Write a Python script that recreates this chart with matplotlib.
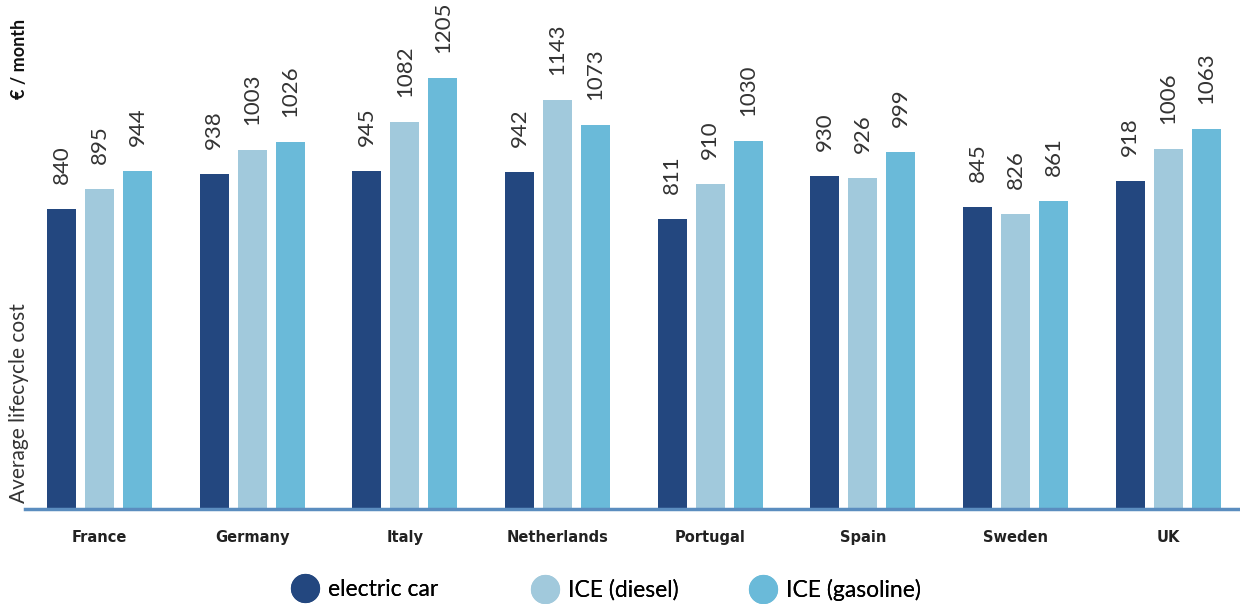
import matplotlib
matplotlib.use("Agg")
import matplotlib.pyplot as plt
from matplotlib.lines import Line2D
import numpy as np

countries = ["France", "Germany", "Italy", "Netherlands", "Portugal", "Spain", "Sweden", "UK"]
electric = [840, 938, 945, 942, 811, 930, 845, 918]
diesel = [895, 1003, 1082, 1143, 910, 926, 826, 1006]
gasoline = [944, 1026, 1205, 1073, 1030, 999, 861, 1063]
series_names = ["electric car", "ICE (diesel)", "ICE (gasoline)"]
colors = ["#23477f", "#a1c9dc", "#6abad9"]

plt.rcParams["font.family"] = ["Lato", "DejaVu Sans"]

fig = plt.figure(figsize=(12.4, 6.04), dpi=100)
ax = fig.add_axes([0.02, 0.157, 0.98, 0.843])

x = np.arange(len(countries))
width = 0.19
step = 0.249
for i, (vals, col) in enumerate(zip([electric, diesel, gasoline], colors)):
    pos = x + (i - 1) * step
    ax.bar(pos, vals, width=width, color=col, zorder=2)
    for p, v in zip(pos, vals):
        ax.annotate(str(v), (p, v), xytext=(0, 18), textcoords="offset points",
                    rotation=90, ha="center", va="bottom", fontsize=16,
                    fontweight="normal", color="#333333")

ax.set_xlim(-0.49, 7.47)
ax.set_ylim(0, 1423)
for s in ["top", "right", "left"]:
    ax.spines[s].set_visible(False)
ax.spines["bottom"].set_color("#5b8dbf")
ax.spines["bottom"].set_linewidth(2.5)
ax.set_yticks([])
ax.set_xticks(x)
ax.set_xticklabels(countries, fontsize=10.5, fontweight="bold", color="#222222",
                   family="DejaVu Sans")
ax.tick_params(axis="x", length=0, pad=15)

fig.text(0.0155, 0.168, "Average lifecycle cost", rotation=90, ha="center", va="bottom",
         fontsize=15, fontweight="normal", color="#333333")
fig.text(0.0155, 0.968, "€ / month", rotation=90, ha="center", va="top",
         fontsize=13, fontweight="bold", color="#111111")

# one legend entry per series, each placed at its own spot along the bottom
legend_x = [0.2352, 0.4288, 0.6046]
for name, col, lx in zip(series_names, colors, legend_x):
    h = Line2D([], [], marker="o", linestyle="none", markersize=20,
               markerfacecolor=col, markeredgecolor=col)
    leg = fig.legend([h], [name], loc="center left", bbox_to_anchor=(lx, 0.0232),
                     frameon=False, borderpad=0, borderaxespad=0, handlelength=1.2,
                     handletextpad=0.39, prop={"weight": "normal", "size": 16.5})
    fig.add_artist(leg)

fig.savefig("out.png", dpi=100)
